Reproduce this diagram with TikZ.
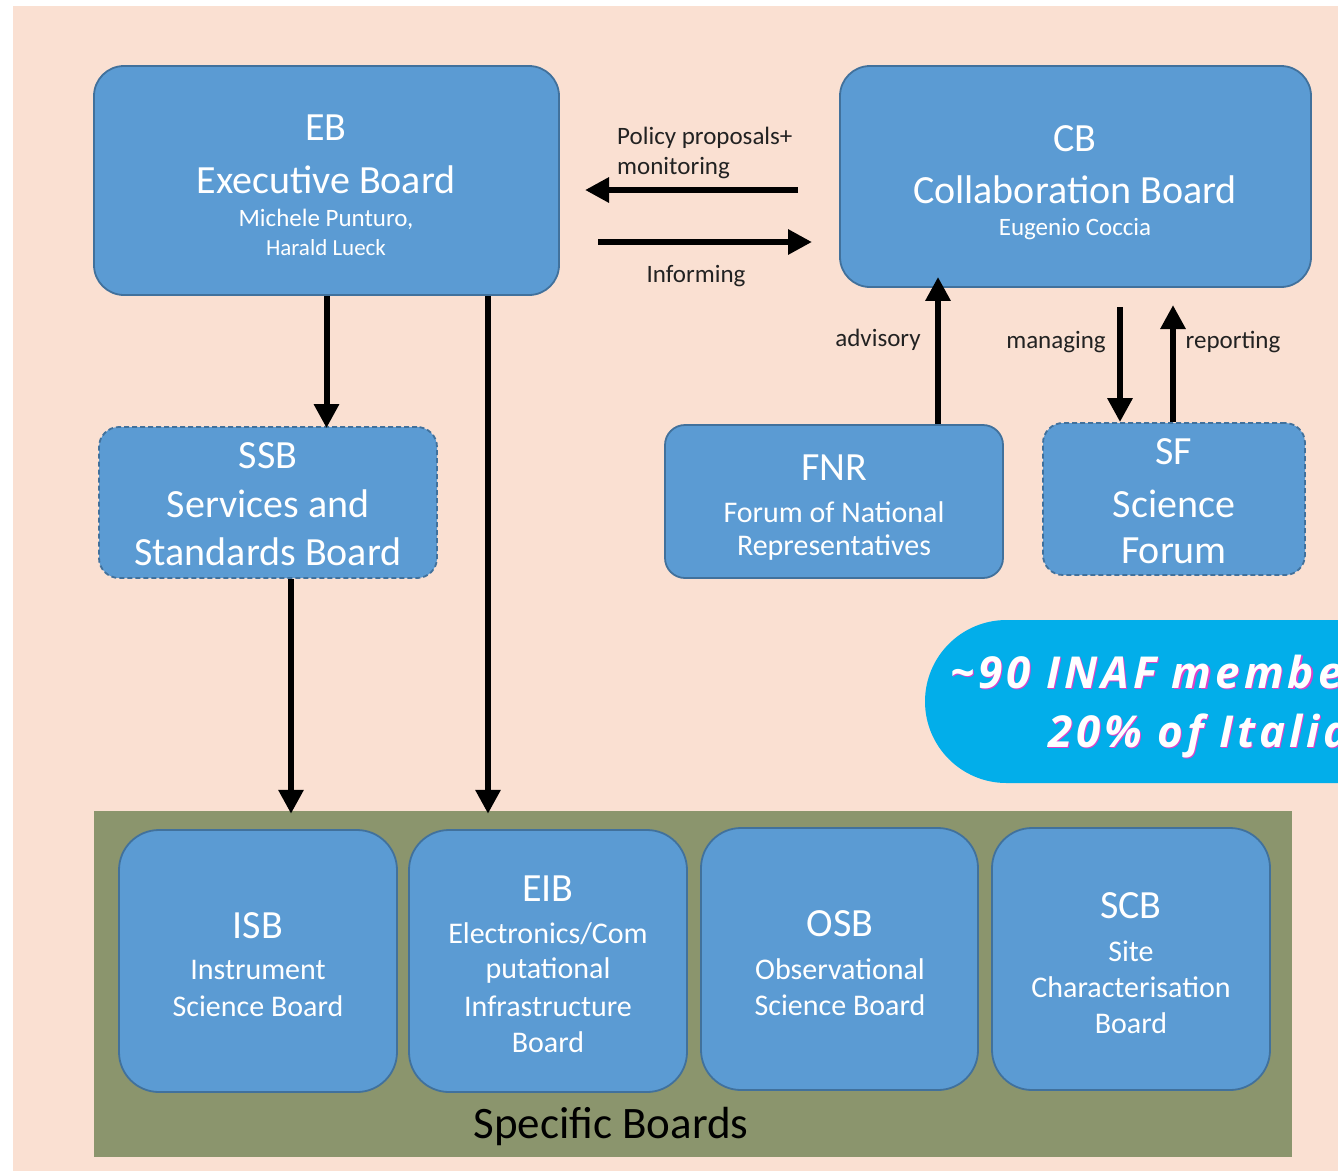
\documentclass[tikz,border=0pt]{standalone}
\usepackage{fontspec}
\setmainfont{Carlito}
\newfontfamily\callfont[LetterSpace=9]{Open Sans}
\usetikzlibrary{arrows.meta}
\definecolor{peach}{HTML}{FAE0D2}
\definecolor{boxblue}{HTML}{5B9BD3}
\definecolor{boxedge}{HTML}{41719C}
\definecolor{panelgreen}{HTML}{8B956D}
\definecolor{callblue}{HTML}{02AEEA}
\definecolor{callshadow}{HTML}{E040C8}
\definecolor{lbl}{HTML}{222222}
\tikzset{
  boxbase/.style={draw=boxedge, line width=1.8pt, fill=boxblue, inner sep=0pt},
  dashbox/.style={boxbase, dash pattern=on 5pt off 3pt},
  big/.style={text=white, font=\fontsize{40}{44}\selectfont, inner sep=0pt},
  small/.style={text=white, font=\fontsize{25}{29}\selectfont, inner sep=0pt},
  mid/.style={text=white, font=\fontsize{30}{34}\selectfont, inner sep=0pt},
  lab/.style={text=lbl, font=\fontsize{25}{29}\selectfont, inner sep=0pt},
  arr/.style={line width=6pt, -{Triangle[width=24pt,length=24pt]}, shorten >=0pt},
  calltext/.style={font=\callfont\bfseries\itshape\fontsize{44}{48}\selectfont, inner sep=0pt, anchor=base west}
}
\begin{document}
\begin{tikzpicture}[x=1pt,y=-1pt]
\useasboundingbox (0,0) rectangle (1338,1171);
\begin{scope}
\clip (0,0) rectangle (1338,1171);
\fill[white] (0,0) rectangle (1338,1171);
\fill[peach] (13,6) rectangle (1338,1171);

% panel
\node[fill=panelgreen, inner sep=0pt, minimum width=1198pt, minimum height=346pt] (panel) at (693,984) {};

% top boxes
\node[boxbase, rounded corners=30pt, minimum width=465pt, minimum height=229pt] (EB) at (326.5,180.5) {};
\node[big] (ebt1) at (326,128) {EB};
\node[big] (ebt2) at (326,180) {Executive Board};
\node[small] (ebt3) at (326,219) {Michele Punturo,};
\node[small, font=\fontsize{23}{27}\selectfont] (ebt4) at (326,248) {Harald Lueck};

\node[boxbase, rounded corners=30pt, minimum width=471pt, minimum height=221pt] (CB) at (1075.5,176.5) {};
\node[big] (cbt1) at (1075,139) {CB};
\node[big] (cbt2) at (1075,190) {Collaboration Board};
\node[small] (cbt3) at (1075,229) {Eugenio Coccia};

% middle boxes
\node[dashbox, rounded corners=20pt, minimum width=338pt, minimum height=151pt] (SSB) at (268,502.5) {};
\node[big] (ssbt1) at (268,456) {SSB};
\node[big] (ssbt2) at (268,504) {Services and};
\node[big] (ssbt3) at (268,552) {Standards Board};

\node[boxbase, rounded corners=20pt, minimum width=338pt, minimum height=153pt] (FNR) at (834,501.5) {};
\node[big] (fnrt1) at (834,468) {FNR};
\node[mid] (fnrt2) at (834,512) {Forum of National};
\node[mid] (fnrt3) at (834,548) {Representatives};

\node[dashbox, rounded corners=20pt, minimum width=262pt, minimum height=152pt] (SF) at (1174,499) {};
\node[big] (sft1) at (1174,452) {SF};
\node[big] (sft2) at (1174,504) {Science};
\node[big] (sft3) at (1174,551) {Forum};

% bottom boxes
\node[boxbase, rounded corners=40pt, minimum width=278pt, minimum height=262pt] (ISB) at (258,961) {};
\node[big] (isbt1) at (258,926) {ISB};
\node[mid] (isbt2) at (258,970) {Instrument};
\node[mid] (isbt3) at (258,1006) {Science Board};

\node[boxbase, rounded corners=40pt, minimum width=278pt, minimum height=262pt] (EIB) at (548,961) {};
\node[big] (eibt1) at (548,889) {EIB};
\node[mid] (eibt2) at (548,934) {Electronics/Com};
\node[mid] (eibt3) at (548,970) {putational};
\node[mid] (eibt4) at (548,1006) {Infrastructure};
\node[mid] (eibt5) at (548,1042) {Board};

\node[boxbase, rounded corners=40pt, minimum width=277pt, minimum height=262pt] (OSB) at (839.5,959) {};
\node[big] (osbt1) at (840,924) {OSB};
\node[mid] (osbt2) at (840,969) {Observational};
\node[mid] (osbt3) at (840,1005) {Science Board};

\node[boxbase, rounded corners=40pt, minimum width=278pt, minimum height=262pt] (SCB) at (1131,959) {};
\node[big] (scbt1) at (1131,906) {SCB};
\node[mid] (scbt2) at (1131,951) {Site};
\node[mid] (scbt3) at (1131,987) {Characterisation};
\node[mid] (scbt4) at (1131,1023) {Board};

\node[text=black, font=\fontsize{45}{49}\selectfont, inner sep=0pt] (spec) at (611,1126) {Specific Boards};

% arrows
\coordinate (pA) at (798,190);
\coordinate (pB) at (585,190);
\coordinate (iA) at (598,242);
\coordinate (iB) at (812,242);
\draw[arr] (pA) -- (pB);
\draw[arr] (iA) -- (iB);
\draw[arr] (EB.south) -- ([yshift=-2pt]SSB.north -| EB.south);
\draw[arr] (EB.south -| 488,0) -- ([yshift=-3pt]panel.north -| 488,0);
\draw[arr] (SSB.south -| 291,0) -- ([yshift=-3pt]panel.north -| 291,0);
\draw[arr] (FNR.north -| 938,0) -- ([yshift=11pt]CB.south -| 938,0);
\coordinate (mA) at (1120,307);
\draw[arr] (mA) -- (SF.north -| mA);
\coordinate (rB) at (1173,305);
\draw[arr] (SF.north -| rB) -- (rB);

% labels
\node[lab, anchor=west] (l1) at (617,138) {Policy proposals+};
\node[lab, anchor=west] (l2) at (617,168) {monitoring};
\node[lab] (l3) at (696,276) {Informing};
\node[lab] (l4) at (878,340) {advisory};
\node[lab] (l5) at (1056,342) {managing};
\node[lab] (l6) at (1233,342) {reporting};

% callout
\fill[callblue, rounded corners=81.5pt] (925,620) rectangle (1600,783);
\node[calltext, text=callshadow] (c1s) at (951.2,689.2) {\textasciitilde90 INAF members};
\node[calltext, text=white] (c1) at (950,688) {\textasciitilde90 INAF members};
\node[calltext, text=callshadow] (c2s) at (1049.2,748.2) {20\% of Italian};
\node[calltext, text=white] (c2) at (1048,747) {20\% of Italian};
\end{scope}
\end{tikzpicture}
\end{document}
